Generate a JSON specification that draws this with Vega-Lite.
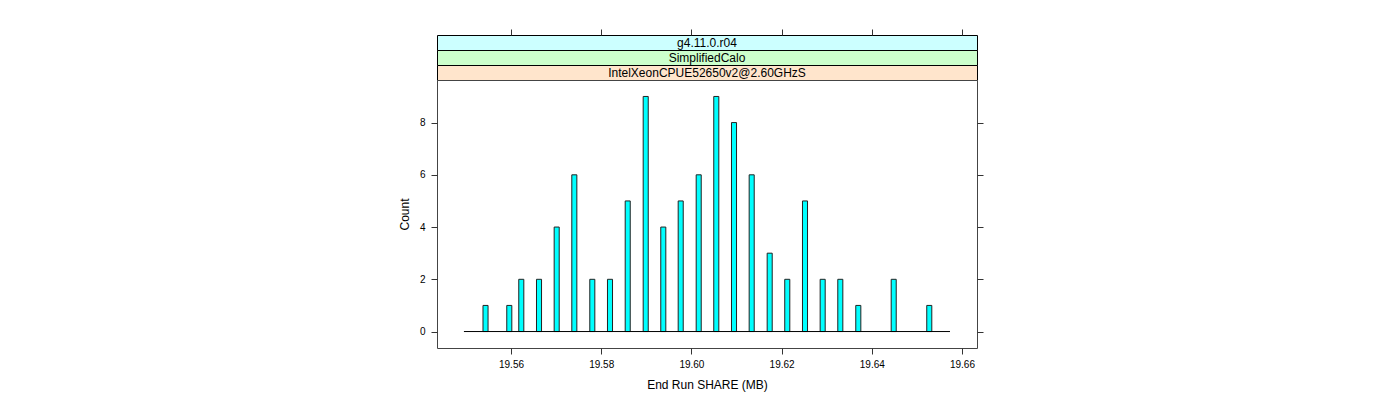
{
  "$schema": "https://vega.github.io/schema/vega-lite/v6.json",
  "padding": {"left": 397, "top": 28, "right": 5, "bottom": 5},
  "background": "white",
  "spacing": 0,
  "bounds": "flush",
  "config": {
    "font": "Liberation Sans",
    "axis": {"grid": false, "domain": false, "tickColor": "#333", "tickSize": 6, "labelFontSize": 10, "labelColor": "black", "titleFontSize": 12, "titleFontWeight": "normal", "titleColor": "black"}
  },
  "datasets": {
    "bins": [
      {"bin_start": 19.55379, "bin_end": 19.55491, "count": 1},
      {"bin_start": 19.55906, "bin_end": 19.56018, "count": 1},
      {"bin_start": 19.56172, "bin_end": 19.56284, "count": 2},
      {"bin_start": 19.56565, "bin_end": 19.56677, "count": 2},
      {"bin_start": 19.56957, "bin_end": 19.57069, "count": 4},
      {"bin_start": 19.57348, "bin_end": 19.57460, "count": 6},
      {"bin_start": 19.57747, "bin_end": 19.57859, "count": 2},
      {"bin_start": 19.58139, "bin_end": 19.58251, "count": 2},
      {"bin_start": 19.58532, "bin_end": 19.58644, "count": 5},
      {"bin_start": 19.58931, "bin_end": 19.59043, "count": 9},
      {"bin_start": 19.59321, "bin_end": 19.59433, "count": 4},
      {"bin_start": 19.59707, "bin_end": 19.59819, "count": 5},
      {"bin_start": 19.60106, "bin_end": 19.60218, "count": 6},
      {"bin_start": 19.60496, "bin_end": 19.60608, "count": 9},
      {"bin_start": 19.60889, "bin_end": 19.61001, "count": 8},
      {"bin_start": 19.61281, "bin_end": 19.61393, "count": 6},
      {"bin_start": 19.61680, "bin_end": 19.61792, "count": 3},
      {"bin_start": 19.62070, "bin_end": 19.62182, "count": 2},
      {"bin_start": 19.62463, "bin_end": 19.62575, "count": 5},
      {"bin_start": 19.62855, "bin_end": 19.62967, "count": 2},
      {"bin_start": 19.63246, "bin_end": 19.63358, "count": 2},
      {"bin_start": 19.63645, "bin_end": 19.63757, "count": 1},
      {"bin_start": 19.64430, "bin_end": 19.64542, "count": 2},
      {"bin_start": 19.65219, "bin_end": 19.65331, "count": 1}
    ],
    "range": [{"from": 19.54956, "to": 19.65734}]
  },
  "vconcat": [
    {
      "width": 540, "height": 15,
      "view": {"fill": "#ccffff", "stroke": "black"},
      "data": {"values": [{"label": "g4.11.0.r04"}]},
      "mark": {"type": "text", "fontSize": 12, "color": "black"},
      "encoding": {
        "x": {"datum": 19.60346, "type": "quantitative",
          "scale": {"domain": [19.54359, 19.66333], "nice": false, "zero": false},
          "axis": {"orient": "top", "labels": false, "title": null, "values": [19.56, 19.58, 19.60, 19.62, 19.64, 19.66]}},
        "text": {"field": "label"}
      }
    },
    {
      "width": 540, "height": 15,
      "view": {"fill": "#ccffcc", "stroke": "black"},
      "data": {"values": [{"label": "SimplifiedCalo"}]},
      "mark": {"type": "text", "fontSize": 12, "color": "black"},
      "encoding": {"text": {"field": "label"}}
    },
    {
      "width": 540, "height": 15,
      "view": {"fill": "#ffe5cc", "stroke": "black"},
      "data": {"values": [{"label": "IntelXeonCPUE52650v2@2.60GHzS"}]},
      "mark": {"type": "text", "fontSize": 12, "color": "black"},
      "encoding": {"text": {"field": "label"}}
    },
    {
      "width": 540, "height": 268,
      "view": {"stroke": "#444", "fill": "white"},
      "resolve": {"axis": {"y": "independent"}},
      "layer": [
        {
          "data": {"name": "bins"},
          "mark": {"type": "rect", "fill": "#00ffff", "stroke": "#222", "strokeWidth": 1},
          "encoding": {
            "x": {"field": "bin_start", "type": "quantitative",
              "scale": {"domain": [19.54359, 19.66333], "nice": false, "zero": false},
              "axis": {"title": "End Run SHARE (MB)", "values": [19.56, 19.58, 19.60, 19.62, 19.64, 19.66], "format": ".2f", "labelPadding": 5, "titlePadding": 10}},
            "x2": {"field": "bin_end"},
            "y": {"field": "count", "type": "quantitative",
              "scale": {"domain": [-0.63, 9.63], "nice": false, "zero": false},
              "axis": {"title": "Count", "values": [0, 2, 4, 6, 8], "labelPadding": 6, "titlePadding": 8}},
            "y2": {"datum": 0}
          }
        },
        {
          "data": {"name": "range"},
          "mark": {"type": "rule", "color": "black", "strokeWidth": 1},
          "encoding": {
            "x": {"field": "from", "type": "quantitative"},
            "x2": {"field": "to"},
            "y": {"datum": 0, "type": "quantitative",
              "axis": {"orient": "right", "labels": false, "title": null, "values": [0, 2, 4, 6, 8]}}
          }
        }
      ]
    }
  ]
}
